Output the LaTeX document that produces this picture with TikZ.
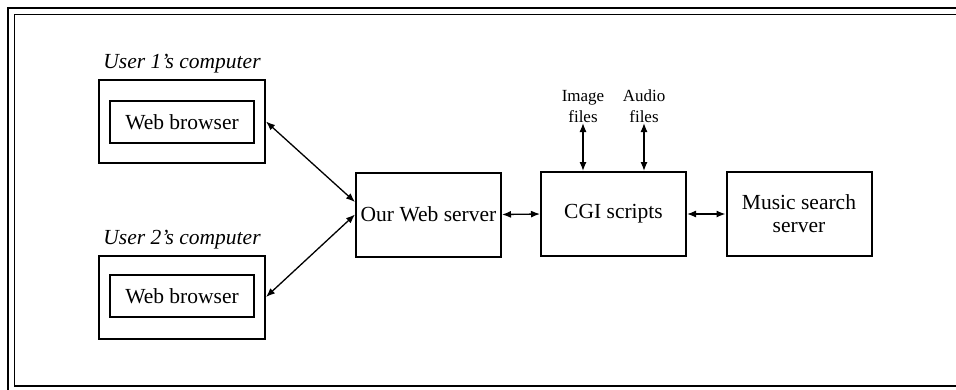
\documentclass[tikz,border=0pt]{standalone}
\usepackage{fontspec}
\setmainfont{Liberation Serif}
\usetikzlibrary{arrows.meta,calc}
\begin{document}
\begin{tikzpicture}[x=1pt,y=-1pt,
  bigfont/.style={font=\fontsize{21.5}{25}\selectfont},
  smallfont/.style={font=\fontsize{17}{21}\selectfont},
  outerbox/.style={draw,line width=2pt,minimum width=166pt,minimum height=83pt,inner sep=0pt},
  innerbox/.style={draw,line width=1.3pt,minimum width=144pt,minimum height=42pt,inner sep=0pt,bigfont},
  procbox/.style={draw,line width=2pt,minimum width=145pt,minimum height=84pt,inner sep=1pt,bigfont,align=center},
  conn/.style={line width=1.3pt,{Latex[length=9pt,width=7pt]}-{Latex[length=9pt,width=7pt]}},
  lbl/.style={smallfont,align=center,inner sep=0pt}]
\useasboundingbox (0,0) rectangle (956,389);
\clip (0,0) rectangle (956,389);
\fill[white] (0,0) rectangle (956,389);
% frame
\draw[line width=1.3pt] (8,8) rectangle (970,400);
\draw[line width=1.3pt] (14.5,14.5) rectangle (962,386);
% user computers
\node[outerbox] (u1) at (182,121.5) {};
\node[innerbox] (b1) at (182,122) {Web browser};
\node[font=\fontsize{21.5}{25}\selectfont\itshape,anchor=base,inner sep=0pt] (l1) at (182,68) {User 1’s computer};
\node[outerbox] (u2) at (182,297) {};
\node[innerbox] (b2) at (182,296) {Web browser};
\node[font=\fontsize{21.5}{25}\selectfont\itshape,anchor=base,inner sep=0pt] (l2) at (182,244) {User 2’s computer};
% processes
\node[procbox] (srv) at (428.5,214.5) {Our Web server};
\node[procbox] (cgi) at (613.5,214) {\raisebox{-3pt}{CGI scripts}};
\node[procbox] (mus) at (799,214) {Music search\\[-2pt]server};
% file labels
\node[lbl,anchor=south] (img) at (583,123) {Image\\files};
\node[lbl,anchor=south] (aud) at (644,123) {Audio\\files};
% connectors
\draw[conn] (u1.east) -- ($(srv.west)+(0,-12.5)$);
\draw[conn] (u2.east) -- (srv.west);
\draw[conn] (srv.east) -- (cgi.west);
\draw[conn] (cgi.east) -- (mus.west);
\draw[conn] (img.south) -- (img.south |- cgi.north);
\draw[conn] (aud.south) -- (aud.south |- cgi.north);
\end{tikzpicture}
\end{document}
